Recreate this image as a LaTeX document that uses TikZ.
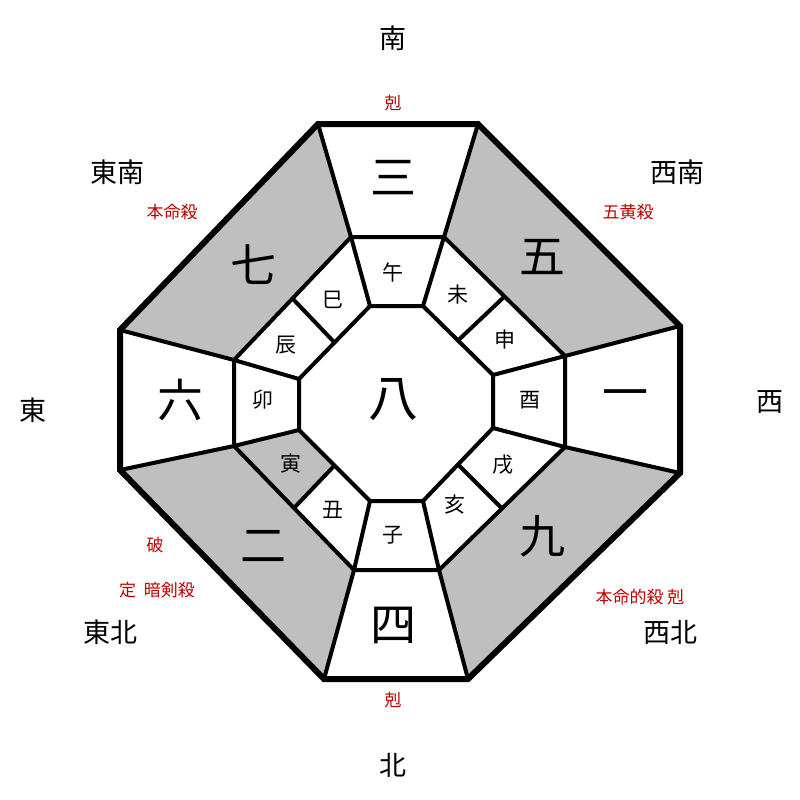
\documentclass[tikz,border=0pt]{standalone}
\usepackage{fontspec}
\usetikzlibrary{calc}
\newfontfamily\cjk{Noto Sans CJK JP}
\begin{document}
\begin{tikzpicture}[x=1pt,y=-1pt,
  big/.style={font=\cjk\fontsize{46}{48}\selectfont},
  small/.style={font=\cjk\fontsize{21}{23}\selectfont},
  dir/.style={font=\cjk\fontsize{27}{29}\selectfont},
  red/.style={font=\cjk\fontsize{17}{19}\selectfont,text=red!75!black},
  thick line/.style={line width=6pt,line join=miter},
  mid line/.style={line width=4pt,line join=miter}]
\useasboundingbox (0,0) rectangle (800,800);
\fill[white] (0,0) rectangle (800,800);
% outer vertices
\coordinate (o1) at (318,124); \coordinate (o2) at (478,124);
\coordinate (o3) at (680,326); \coordinate (o4) at (680,473);
\coordinate (o5) at (468,679); \coordinate (o6) at (324,679);
\coordinate (o7) at (120,470); \coordinate (o8) at (120,330);
% middle
\coordinate (m1) at (351,237); \coordinate (m2) at (444,237);
\coordinate (m3) at (565,356); \coordinate (m4) at (565,447);
\coordinate (m5) at (439,570); \coordinate (m6) at (354,570);
\coordinate (m7) at (234,446); \coordinate (m8) at (234,360);
% inner
\coordinate (i1) at (370,306); \coordinate (i2) at (423,306);
\coordinate (i3) at (493,375); \coordinate (i4) at (493,428);
\coordinate (i5) at (423,501); \coordinate (i6) at (370,501);
\coordinate (i7) at (299,430); \coordinate (i8) at (299,379);
% gray sectors
\fill[gray!50] (o2)--(o3)--(m3)--(m2)--cycle;
\fill[gray!50] (o4)--(o5)--(m5)--(m4)--cycle;
\fill[gray!50] (o6)--(o7)--(m7)--(m6)--cycle;
\fill[gray!50] (o8)--(o1)--(m1)--(m8)--cycle;
\fill[gray!50] (m7)--(i7)--($(i6)!0.5!(i7)$)--($(m6)!0.5!(m7)$)--cycle;
% middle and inner octagons
\draw[mid line] (m1)--(m2)--(m3)--(m4)--(m5)--(m6)--(m7)--(m8)--cycle;
\draw[mid line] (i1)--(i2)--(i3)--(i4)--(i5)--(i6)--(i7)--(i8)--cycle;
% radial lines
\foreach \k in {1,...,8}{\draw[mid line] (o\k)--(m\k)--(i\k);}
% diagonal cell dividers
\draw[mid line] ($(m8)!0.5!(m1)$)--($(i8)!0.5!(i1)$);
\draw[mid line] ($(m2)!0.5!(m3)$)--($(i2)!0.5!(i3)$);
\draw[mid line] ($(m4)!0.5!(m5)$)--($(i4)!0.5!(i5)$);
\draw[mid line] ($(m6)!0.5!(m7)$)--($(i6)!0.5!(i7)$);
% outer octagon
\draw[thick line] (o1)--(o2)--(o3)--(o4)--(o5)--(o6)--(o7)--(o8)--cycle;
% big numerals
\node[big] (n3) at (393,178) {三};
\node[big] (n5) at (542,257) {五};
\node[big] (n1) at (625,400) {一};
\node[big] (n9) at (542,536) {九};
\node[big] (n4) at (393,625) {四};
\node[big] (n2) at (263,546) {二};
\node[big] (n6) at (180,400) {六};
\node[big] (n7) at (253,265) {七};
\node[big,font=\cjk\fontsize{50}{52}\selectfont] (n8) at (393,400) {八};
% zodiac
\node[small] (z1) at (393,272) {午};
\node[small] (z2) at (458,295) {未};
\node[small] (z3) at (505,340) {申};
\node[small] (z4) at (530,400) {酉};
\node[small] (z5) at (503,465) {戌};
\node[small] (z6) at (455,505) {亥};
\node[small] (z7) at (393,535) {子};
\node[small] (z8) at (333,510) {丑};
\node[small] (z9) at (291,464) {寅};
\node[small] (z10) at (263,400) {卯};
\node[small] (z11) at (286,345) {辰};
\node[small] (z12) at (333,300) {巳};
% directions
\node[dir] (dS) at (393,38) {南};
\node[dir] (dSE) at (117,172) {東南};
\node[dir] (dSW) at (677,172) {西南};
\node[dir] (dE) at (33,410) {東};
\node[dir] (dW) at (770,402) {西};
\node[dir] (dNE) at (110,632) {東北};
\node[dir] (dNW) at (670,632) {西北};
\node[dir] (dN) at (393,765) {北};
% red labels
\node[red] (r1) at (393,103) {剋};
\node[red] (r2) at (172,212) {本命殺};
\node[red] (r3) at (628,212) {五黄殺};
\node[red] (r4) at (155,545) {破};
\node[red] (r5) at (157,590) {定\ \ 暗剣殺};
\node[red] (r6) at (640,597) {本命的殺\ 剋};
\node[red] (r7) at (393,700) {剋};
\end{tikzpicture}
\end{document}
